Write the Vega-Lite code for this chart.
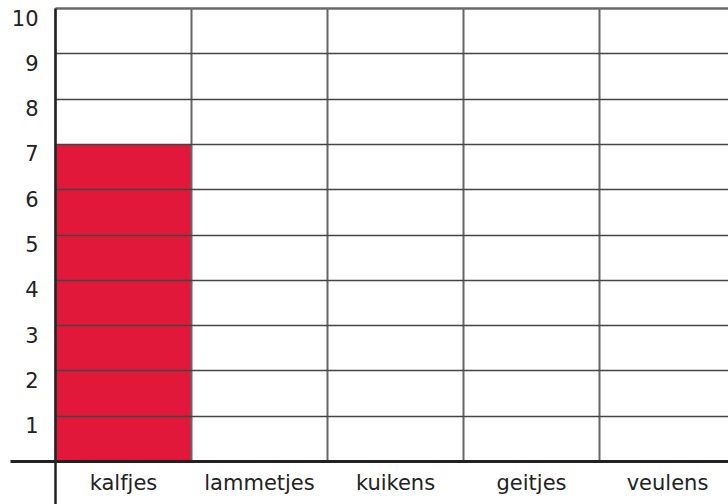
{
  "$schema": "https://vega.github.io/schema/vega-lite/v6.json",
  "width": 673,
  "height": 453,
  "autosize": {"type": "none"},
  "padding": {"left": 55, "top": 8, "right": 0, "bottom": 43},
  "background": "white",
  "config": {"view": {"stroke": null}},
  "data": {
    "values": [
      {"dier": "kalfjes", "aantal": 7},
      {"dier": "lammetjes", "aantal": 0},
      {"dier": "kuikens", "aantal": 0},
      {"dier": "geitjes", "aantal": 0},
      {"dier": "veulens", "aantal": 0}
    ]
  },
  "mark": {"type": "bar", "color": "#e2183a", "strokeWidth": 0},
  "encoding": {
    "x": {
      "field": "dier",
      "type": "nominal",
      "sort": null,
      "title": null,
      "scale": {"domain": ["kalfjes", "lammetjes", "kuikens", "geitjes", "veulens"], "range": [0, 680], "paddingInner": 0, "paddingOuter": 0},
      "axis": {
        "zindex": 1,
        "tickBand": "extent",
        "grid": true,
        "gridColor": "#666666",
        "gridWidth": 2,
        "domain": true,
        "domainColor": "#222222",
        "domainWidth": 3,
        "ticks": true,
        "tickSize": 43,
        "tickWidth": 2.5,
        "tickColor": "#222222",
        "tickOpacity": {"condition": {"test": "datum.extra", "value": 1}, "value": 0},
        "labelAngle": 0,
        "labelFont": "DejaVu Sans",
        "labelFontSize": 21,
        "labelColor": "#222222",
        "labelPadding": -32,
        "labelBaseline": "top",
        "labelOverlap": false
      }
    },
    "y": {
      "field": "aantal",
      "type": "quantitative",
      "title": null,
      "scale": {"domain": [0, 10], "nice": false, "zero": true},
      "axis": {
        "zindex": 1,
        "values": [0, 1, 2, 3, 4, 5, 6, 7, 8, 9, 10],
        "grid": true,
        "gridColor": {"condition": {"test": "datum.value === 10", "value": "#6a6a6a"}, "value": "#444444"},
        "gridWidth": {"condition": {"test": "datum.value === 10", "value": 2.5}, "value": 1.5},
        "domain": true,
        "domainColor": "#222222",
        "domainWidth": 2.5,
        "ticks": true,
        "tickSize": 45,
        "tickWidth": 3,
        "tickColor": "#222222",
        "tickOpacity": {"condition": {"test": "datum.value === 0", "value": 1}, "value": 0},
        "labelExpr": "datum.value === 0 ? '' : datum.label",
        "labelFont": "DejaVu Sans",
        "labelFontSize": 21,
        "labelColor": "#222222",
        "labelPadding": -28,
        "labelBaseline": "top",
        "labelOverlap": false,
        "labelFlush": false
      }
    }
  }
}
